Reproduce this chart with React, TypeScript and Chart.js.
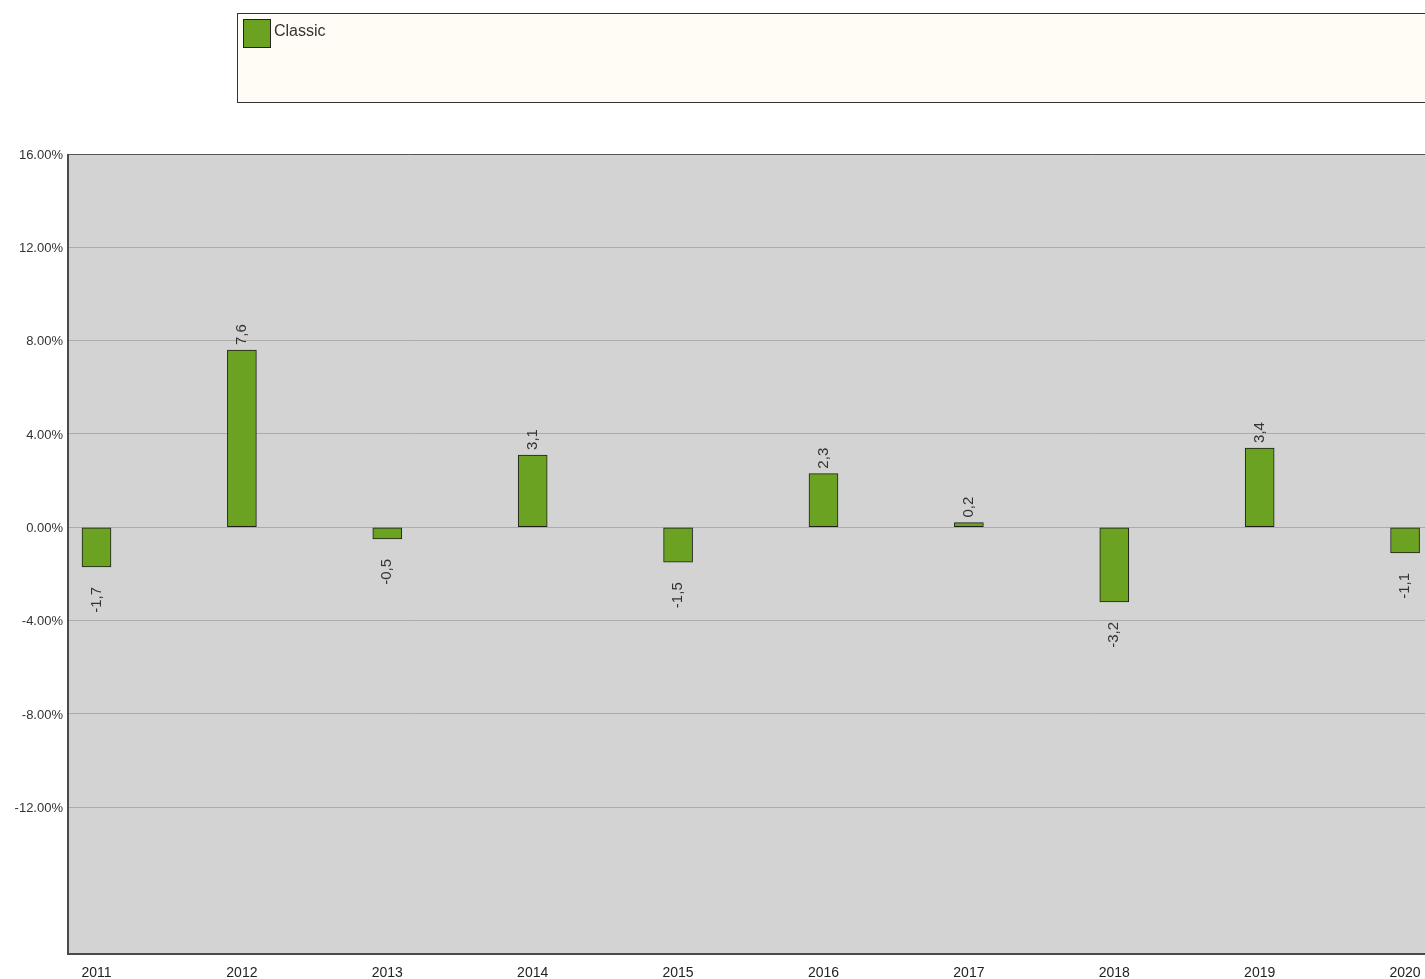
import React, { useEffect, useRef } from "react";
import { Chart, registerables } from "chart.js";

Chart.register(...registerables);

const years = [2011, 2012, 2013, 2014, 2015, 2016, 2017, 2018, 2019, 2020];
const classicValues = [-1.7, 7.6, -0.5, 3.1, -1.5, 2.3, 0.2, -3.2, 3.4, -1.1];
const yTickValues = [-12, -8, -4, 0, 4, 8, 12, 16];
const seriesLabel = "Classic";

const FONT = "'Liberation Sans', Arial, sans-serif";
const BAR_COLOR = "#6ba222";

const plotBackground = {
  id: "plotBackground",
  beforeDraw(chart: any) {
    const { ctx, chartArea } = chart;
    ctx.save();
    ctx.fillStyle = "#d3d3d3";
    ctx.fillRect(chartArea.left, chartArea.top, chartArea.right - chartArea.left, chartArea.bottom - chartArea.top);
    ctx.restore();
  },
  afterDraw(chart: any) {
    const { ctx, chartArea } = chart;
    ctx.save();
    ctx.strokeStyle = "#555555";
    ctx.lineWidth = 1;
    ctx.beginPath();
    ctx.moveTo(chartArea.left, chartArea.top + 0.5);
    ctx.lineTo(chartArea.right, chartArea.top + 0.5);
    ctx.stroke();
    ctx.lineWidth = 2;
    ctx.strokeStyle = "#4a4a4a";
    ctx.beginPath();
    ctx.moveTo(chartArea.left, chartArea.top);
    ctx.lineTo(chartArea.left, chartArea.bottom);
    ctx.lineTo(chartArea.right, chartArea.bottom);
    ctx.stroke();
    ctx.restore();
  },
};

const boxLegend = {
  id: "boxLegend",
  afterDraw(chart: any) {
    const { ctx } = chart;
    const ds = chart.data.datasets[0];
    ctx.save();
    ctx.fillStyle = "#fffcf5";
    ctx.fillRect(229, 5, 1400, 89);
    ctx.strokeStyle = "#333333";
    ctx.lineWidth = 1;
    ctx.strokeRect(229.5, 5.5, 1400, 89);
    ctx.fillStyle = ds.backgroundColor;
    ctx.fillRect(235, 11, 27, 28);
    ctx.strokeStyle = "#222222";
    ctx.strokeRect(235.5, 11.5, 27, 28);
    ctx.fillStyle = "#333333";
    ctx.font = `16px ${FONT}`;
    ctx.textAlign = "left";
    ctx.textBaseline = "middle";
    ctx.fillText(ds.label, 266, 24);
    ctx.restore();
  },
};

const valueLabels = {
  id: "valueLabels",
  afterDatasetsDraw(chart: any) {
    const { ctx } = chart;
    const meta = chart.getDatasetMeta(0);
    ctx.save();
    ctx.fillStyle = "#333333";
    ctx.font = `15px ${FONT}`;
    ctx.textBaseline = "middle";
    meta.data.forEach((el: any, i: number) => {
      const v = classicValues[i];
      const txt = v.toFixed(1).replace(".", ",");
      ctx.save();
      if (v >= 0) {
        ctx.translate(el.x, el.y - 5);
        ctx.rotate(-Math.PI / 2);
        ctx.textAlign = "left";
      } else {
        ctx.translate(el.x, el.y + 20);
        ctx.rotate(-Math.PI / 2);
        ctx.textAlign = "right";
      }
      ctx.fillText(txt, 0, 0);
      ctx.restore();
    });
    ctx.restore();
  },
};

export default function App() {
  const ref = useRef<HTMLCanvasElement | null>(null);

  useEffect(() => {
    document.body.style.margin = "0";
    const canvas = ref.current;
    if (!canvas) return;
    const chart = new Chart(canvas, {
      type: "bar",
      data: {
        datasets: [
          {
            label: seriesLabel,
            data: years.map((y, i) => ({ x: y, y: classicValues[i] })),
            backgroundColor: BAR_COLOR,
            borderColor: "#1e1e1e",
            borderWidth: 1,
            borderSkipped: false,
            barThickness: 29,
          } as any,
        ],
      },
      options: {
        responsive: false,
        animation: false,
        devicePixelRatio: 1,
        layout: { padding: { top: 146, right: 14, bottom: 0, left: 0 } },
        plugins: {
          legend: { display: false },
          tooltip: { enabled: false },
        },
        scales: {
          x: {
            type: "linear",
            min: 2010.804,
            max: 2020.199,
            offset: false,
            grid: { display: false, drawTicks: false },
            border: { display: false },
            afterBuildTicks: (scale: any) => {
              scale.ticks = years.map((v) => ({ value: v }));
            },
            afterFit: (scale: any) => {
              scale.height = 25;
            },
            ticks: {
              padding: 11,
              color: "#222222",
              font: { family: FONT, size: 14 },
              maxRotation: 0,
              autoSkip: false,
              callback: (v: any) => String(v),
            },
          },
          y: {
            type: "linear",
            min: -18.29,
            max: 16,
            grid: { color: "#ababab", lineWidth: 1, drawTicks: false },
            border: { display: false },
            afterBuildTicks: (scale: any) => {
              scale.ticks = yTickValues.map((v) => ({ value: v }));
            },
            afterFit: (scale: any) => {
              scale.width = 60;
            },
            ticks: {
              padding: 5,
              labelOffset: 1,
              color: "#333333",
              font: { family: FONT, size: 13 },
              callback: (v: any) => Number(v).toFixed(2) + "%",
            },
          },
        },
      },
      plugins: [plotBackground, valueLabels, boxLegend],
    });
    return () => chart.destroy();
  }, []);

  return (
    <div style={{ width: 1425, height: 979, overflow: "hidden", position: "relative" }}>
      <canvas
        ref={ref}
        width={1440}
        height={971}
        style={{ display: "block", position: "absolute", left: 8, top: 8 }}
      />
    </div>
  );
}
